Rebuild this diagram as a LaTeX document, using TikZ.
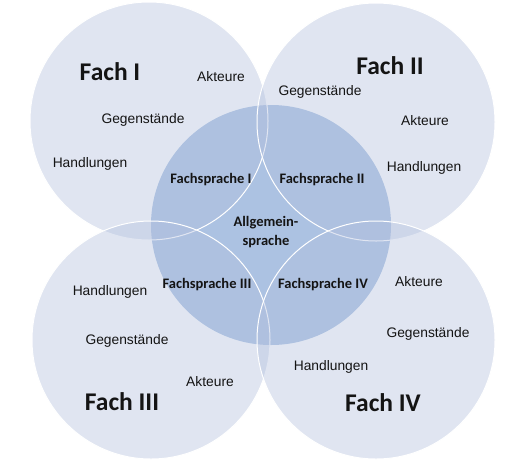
\documentclass[tikz,border=0pt]{standalone}
\usepackage{fontspec}
\setmainfont{Liberation Sans}
\newfontfamily\calib{Carlito}
\definecolor{outerfill}{RGB}{178,192,222}
\definecolor{centerfill}{RGB}{172,194,226}
\definecolor{txt}{RGB}{20,20,20}
\begin{document}
\begin{tikzpicture}[x=1pt,y=-1pt,
  fachcircle/.style={circle,draw=white,line width=1pt,fill=outerfill,fill opacity=0.4,minimum size=238pt,inner sep=0pt},
  centercircle/.style={circle,fill=centerfill,minimum size=240pt,inner sep=0pt},
  fachlabel/.style={anchor=base,text=txt,font=\calib\bfseries\fontsize{25.5}{28}\selectfont,inner sep=0pt},
  sprlabel/.style={anchor=base,text=txt,font=\calib\bfseries\fontsize{14.5}{17}\selectfont,inner sep=0pt},
  itemlabel/.style={anchor=base,text=txt,font=\fontsize{13.8}{16}\selectfont,inner sep=0pt}]
\useasboundingbox[fill=white] (0,0) rectangle (532,461);
\node[centercircle] (c0) at (271,225) {};
\node[fachcircle] (c1) at (149,121) {};
\node[fachcircle] (c2) at (376,122) {};
\node[fachcircle] (c3) at (151,340) {};
\node[fachcircle] (c4) at (376,340) {};
% Fach I
\node[fachlabel] (f1) at (110,80) {Fach I};
\node[itemlabel] (a1) at (221,81) {Akteure};
\node[itemlabel] (g1) at (143,123) {Gegenstände};
\node[itemlabel] (h1) at (90,167) {Handlungen};
\node[sprlabel] (s1) at (211,183) {Fachsprache I};
% Fach II
\node[fachlabel] (f2) at (390,74) {Fach II};
\node[itemlabel] (g2) at (320,95) {Gegenstände};
\node[itemlabel] (a2) at (425,125) {Akteure};
\node[itemlabel] (h2) at (424,171) {Handlungen};
\node[sprlabel] (s2) at (322,183) {Fachsprache II};
% centre
\node[sprlabel] (al1) at (266,226) {Allgemein-};
\node[sprlabel] (al2) at (266,245) {sprache};
% Fach III
\node[itemlabel] (h3) at (110,295) {Handlungen};
\node[sprlabel] (s3) at (207,288) {Fachsprache III};
\node[itemlabel] (g3) at (127,344) {Gegenstände};
\node[itemlabel] (a3) at (210,386) {Akteure};
\node[fachlabel] (f3) at (122,410) {Fach III};
% Fach IV
\node[sprlabel] (s4) at (323,288) {Fachsprache IV};
\node[itemlabel] (a4) at (419,286) {Akteure};
\node[itemlabel] (g4) at (428,337) {Gegenstände};
\node[itemlabel] (h4) at (331,370) {Handlungen};
\node[fachlabel] (f4) at (383,411) {Fach IV};
\end{tikzpicture}
\end{document}
